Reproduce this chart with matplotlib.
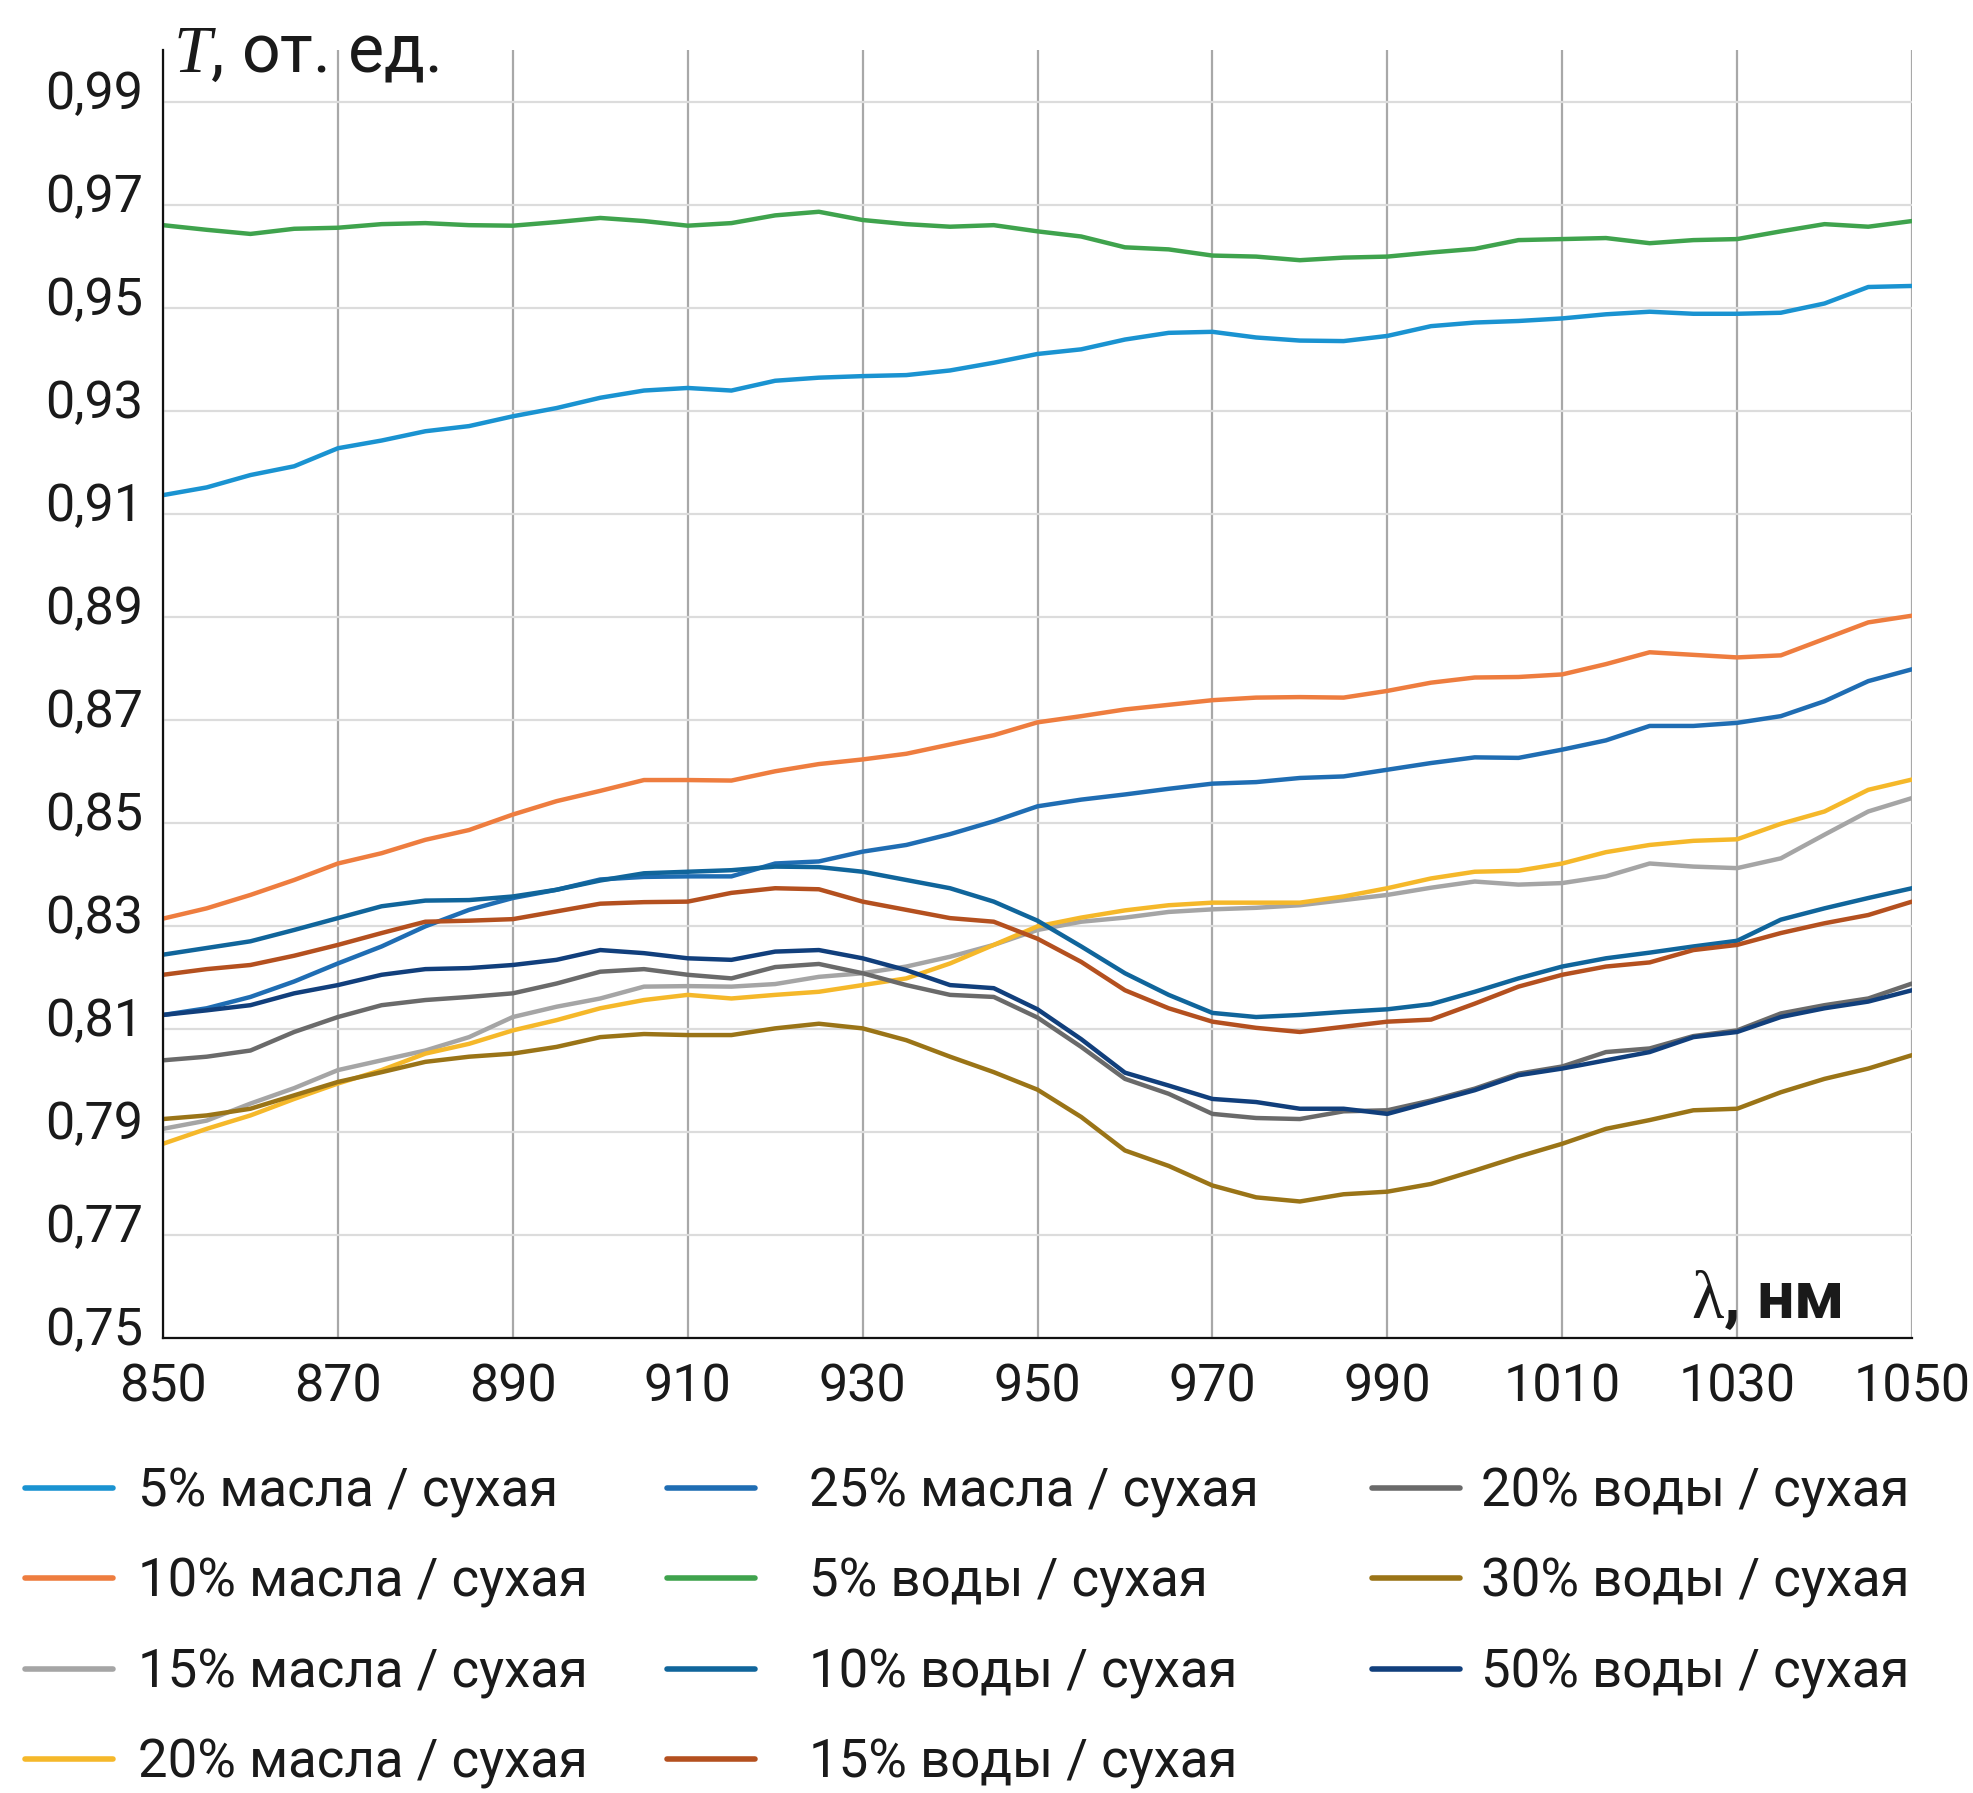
import matplotlib
matplotlib.use("Agg")
import matplotlib.pyplot as plt
import matplotlib.transforms as mtransforms
import numpy as np

# ---------------- data ----------------
wavelength = list(range(850, 1051, 5))

oil5 = [0.9136, 0.9151, 0.9175, 0.9192, 0.9227, 0.9242, 0.9260, 0.9270, 0.9289, 0.9305,
        0.9325, 0.9339, 0.9344, 0.9339, 0.9358, 0.9364, 0.9367, 0.9369, 0.9378, 0.9393,
        0.9410, 0.9419, 0.9438, 0.9451, 0.9453, 0.9442, 0.9436, 0.9435, 0.9445, 0.9464,
        0.9471, 0.9474, 0.9479, 0.9487, 0.9492, 0.9488, 0.9488, 0.9490, 0.9508, 0.9540,
        0.9542]
oil10 = [0.8314, 0.8334, 0.8360, 0.8389, 0.8421, 0.8441, 0.8467, 0.8486, 0.8516, 0.8542,
         0.8562, 0.8583, 0.8583, 0.8582, 0.8600, 0.8614, 0.8623, 0.8634, 0.8652, 0.8670,
         0.8695, 0.8707, 0.8720, 0.8729, 0.8738, 0.8743, 0.8744, 0.8743, 0.8756, 0.8772,
         0.8782, 0.8783, 0.8788, 0.8808, 0.8831, 0.8826, 0.8821, 0.8825, 0.8857, 0.8889,
         0.8902]
oil15 = [0.7906, 0.7922, 0.7955, 0.7985, 0.8020, 0.8039, 0.8058, 0.8084, 0.8123, 0.8143,
         0.8159, 0.8182, 0.8183, 0.8182, 0.8187, 0.8201, 0.8208, 0.8221, 0.8240, 0.8263,
         0.8292, 0.8308, 0.8316, 0.8327, 0.8332, 0.8335, 0.8340, 0.8350, 0.8360, 0.8374,
         0.8386, 0.8380, 0.8383, 0.8396, 0.8421, 0.8415, 0.8412, 0.8431, 0.8477, 0.8522,
         0.8548]
oil20 = [0.7877, 0.7906, 0.7932, 0.7964, 0.7994, 0.8020, 0.8052, 0.8071, 0.8097, 0.8117,
         0.8140, 0.8156, 0.8166, 0.8159, 0.8166, 0.8172, 0.8185, 0.8198, 0.8227, 0.8263,
         0.8299, 0.8316, 0.8330, 0.8340, 0.8345, 0.8345, 0.8345, 0.8357, 0.8373, 0.8392,
         0.8405, 0.8407, 0.8421, 0.8443, 0.8457, 0.8465, 0.8468, 0.8498, 0.8522, 0.8564,
         0.8584]
oil25 = [0.8127, 0.8140, 0.8162, 0.8192, 0.8227, 0.8260, 0.8299, 0.8331, 0.8354, 0.8370,
         0.8390, 0.8395, 0.8396, 0.8396, 0.8421, 0.8425, 0.8444, 0.8457, 0.8478, 0.8503,
         0.8532, 0.8545, 0.8555, 0.8566, 0.8576, 0.8579, 0.8587, 0.8590, 0.8603, 0.8616,
         0.8627, 0.8626, 0.8642, 0.8660, 0.8688, 0.8688, 0.8694, 0.8707, 0.8736, 0.8775,
         0.8798]
water5 = [0.9660, 0.9651, 0.9643, 0.9653, 0.9655, 0.9662, 0.9664, 0.9660, 0.9659, 0.9666,
          0.9674, 0.9668, 0.9659, 0.9664, 0.9679, 0.9686, 0.9670, 0.9662, 0.9657, 0.9660,
          0.9648, 0.9638, 0.9617, 0.9613, 0.9601, 0.9599, 0.9592, 0.9597, 0.9599, 0.9607,
          0.9614, 0.9631, 0.9633, 0.9635, 0.9625, 0.9631, 0.9633, 0.9648, 0.9662, 0.9657,
          0.9668]
water10 = [0.8244, 0.8257, 0.8270, 0.8292, 0.8315, 0.8338, 0.8349, 0.8350, 0.8357, 0.8370,
           0.8388, 0.8402, 0.8405, 0.8408, 0.8415, 0.8414, 0.8405, 0.8389, 0.8373, 0.8347,
           0.8310, 0.8260, 0.8208, 0.8166, 0.8131, 0.8123, 0.8127, 0.8133, 0.8138, 0.8148,
           0.8172, 0.8198, 0.8221, 0.8237, 0.8248, 0.8260, 0.8271, 0.8312, 0.8334, 0.8354,
           0.8373]
water15 = [0.8205, 0.8216, 0.8224, 0.8242, 0.8263, 0.8286, 0.8308, 0.8310, 0.8313, 0.8328,
           0.8343, 0.8346, 0.8347, 0.8364, 0.8373, 0.8371, 0.8347, 0.8331, 0.8315, 0.8308,
           0.8275, 0.8230, 0.8175, 0.8140, 0.8114, 0.8102, 0.8094, 0.8104, 0.8114, 0.8118,
           0.8149, 0.8182, 0.8205, 0.8221, 0.8229, 0.8253, 0.8263, 0.8286, 0.8305, 0.8321,
           0.8347]
water20 = [0.8039, 0.8046, 0.8058, 0.8094, 0.8123, 0.8146, 0.8156, 0.8162, 0.8169, 0.8188,
           0.8211, 0.8216, 0.8205, 0.8198, 0.8220, 0.8226, 0.8208, 0.8185, 0.8166, 0.8162,
           0.8122, 0.8065, 0.8003, 0.7974, 0.7935, 0.7927, 0.7925, 0.7940, 0.7942, 0.7961,
           0.7984, 0.8013, 0.8027, 0.8055, 0.8062, 0.8086, 0.8097, 0.8130, 0.8146, 0.8159,
           0.8188]
water30 = [0.7925, 0.7932, 0.7945, 0.7971, 0.7997, 0.8016, 0.8036, 0.8046, 0.8052, 0.8065,
           0.8084, 0.8090, 0.8088, 0.8088, 0.8101, 0.8110, 0.8101, 0.8078, 0.8046, 0.8016,
           0.7982, 0.7929, 0.7864, 0.7834, 0.7796, 0.7773, 0.7765, 0.7779, 0.7784, 0.7799,
           0.7825, 0.7852, 0.7877, 0.7906, 0.7923, 0.7942, 0.7945, 0.7977, 0.8003, 0.8023,
           0.8049]
water50 = [0.8127, 0.8136, 0.8146, 0.8169, 0.8185, 0.8205, 0.8216, 0.8218, 0.8224, 0.8234,
           0.8253, 0.8247, 0.8237, 0.8234, 0.8250, 0.8253, 0.8237, 0.8214, 0.8185, 0.8179,
           0.8138, 0.8080, 0.8015, 0.7990, 0.7964, 0.7958, 0.7945, 0.7945, 0.7935, 0.7958,
           0.7981, 0.8010, 0.8023, 0.8039, 0.8055, 0.8084, 0.8094, 0.8123, 0.8140, 0.8153,
           0.8175]

labels = ["5% масла / сухая", "10% масла / сухая", "15% масла / сухая", "20% масла / сухая",
          "25% масла / сухая", "5% воды / сухая", "10% воды / сухая", "15% воды / сухая",
          "20% воды / сухая", "30% воды / сухая", "50% воды / сухая"]
series = [oil5, oil10, oil15, oil20, oil25, water5, water10, water15, water20, water30, water50]
colors = ["#1a93d1", "#ee7d3f", "#a5a5a5", "#f5b82a", "#1f6db3", "#3fa34d",
          "#10659b", "#b4501f", "#6a6a6a", "#9a7417", "#113f7c"]

x_ticks = list(range(850, 1051, 20))
y_ticks = [0.75, 0.77, 0.79, 0.81, 0.83, 0.85, 0.87, 0.89, 0.91, 0.93, 0.95, 0.97, 0.99]
y_tick_labels = ["0,75", "0,77", "0,79", "0,81", "0,83", "0,85", "0,87", "0,89",
                 "0,91", "0,93", "0,95", "0,97", "0,99"]

# ---------------- style ----------------
plt.rcParams['font.family'] = ['Roboto', 'DejaVu Sans']
plt.rcParams['mathtext.fontset'] = 'custom'
plt.rcParams['mathtext.it'] = 'Liberation Serif:italic'
plt.rcParams['mathtext.rm'] = 'Liberation Serif'

W, H = 1974, 1793
fig = plt.figure(figsize=(W / 100, H / 100), dpi=100)
L, R, B, T = 163, 1912, 1338, 50
ax = fig.add_axes([L / W, 1 - B / H, (R - L) / W, (B - T) / H])

lines = []
for ys, c, lab in zip(series, colors, labels):
    ln, = ax.plot(wavelength, ys, color=c, lw=3.2, label=lab, solid_capstyle='round')
    lines.append(ln)

ax.set_xlim(850, 1050)
ax.set_ylim(0.75, 1.0)
ax.set_xticks(x_ticks)
ax.set_xticklabels([str(v) for v in x_ticks])
ax.set_yticks(y_ticks)
ax.set_yticklabels(y_tick_labels)

ax.xaxis.grid(True, color='#a8a8a8', lw=1.6)
ax.yaxis.grid(True, color='#dcdcdc', lw=1.6)
ax.set_axisbelow(True)
for s in ['top', 'right']:
    ax.spines[s].set_visible(False)
for s in ['left', 'bottom']:
    ax.spines[s].set_color('#111111')
    ax.spines[s].set_linewidth(1.6)
    ax.spines[s].set_zorder(5)

ax.tick_params(axis='both', length=0, labelsize=37.5, colors='#1a1a1a')
ax.tick_params(axis='x', pad=18)
ax.tick_params(axis='y', pad=14)

# y tick labels sit slightly above their gridlines in the reference
shift = mtransforms.ScaledTranslation(0, 9 / 72, fig.dpi_scale_trans)
for lbl in ax.get_yticklabels():
    lbl.set_transform(lbl.get_transform() + shift)

# axis titles
fig.text(173 / W, 1 - 72 / H, r"$T$, от. ед.", fontsize=49, color='#1a1a1a',
         ha='left', va='baseline')
fig.text(1842 / W, 1 - 1318 / H, r"$\mathrm{λ}$, нм", fontsize=48, color='#1a1a1a',
         ha='right', va='baseline', fontweight='bold')

# legend in three columns
cols = [[0, 1, 2, 3], [4, 5, 6, 7], [8, 9, 10]]
col_x = [25, 667, 1372]
col_pad = [0.48, 1.03, 0.40]
top_y = 1499
fs = 38
for idxs, cx, pad in zip(cols, col_x, col_pad):
    leg = fig.legend([lines[i] for i in idxs], [labels[i] for i in idxs],
                     loc='upper left',
                     bbox_to_anchor=(cx / W, 1 - (top_y - 33) / H),
                     frameon=False, fontsize=fs, handlelength=1.67,
                     handletextpad=pad, labelspacing=0.74,
                     borderpad=0, borderaxespad=0)
    for lh in leg.get_lines():
        lh.set_linewidth(4.0)
    for t in leg.get_texts():
        t.set_color('#1a1a1a')

fig.savefig("out.png", dpi=100)
